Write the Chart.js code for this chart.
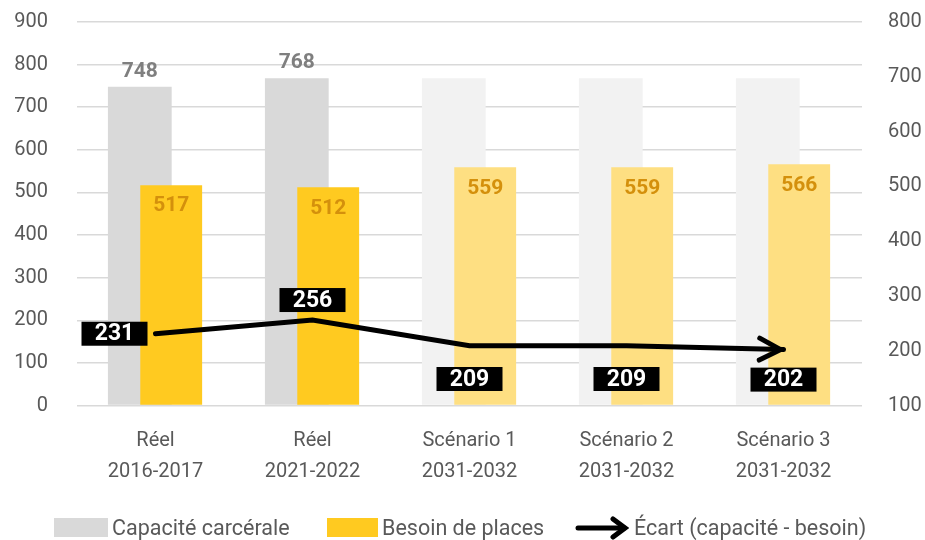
<!DOCTYPE html>
<html lang="fr">
<head>
<meta charset="utf-8">
<script src="https://cdn.jsdelivr.net/npm/chart.js@4/dist/chart.umd.min.js"></script>
<style>
  html, body { margin: 0; padding: 0; background: #fff; }
  #wrap { position: relative; width: 925px; height: 540px; }
  #legende { position: absolute; left: 0; top: 518px; width: 925px; height: 19px;
    font: 21.5px Roboto, sans-serif; color: #595959; white-space: nowrap; }
  .item { position: absolute; top: 0; height: 19px; display: flex; align-items: center; }
  .boite { display: inline-block; height: 19px; margin-right: 4px; }
</style>
</head>
<body>
<div id="wrap">
  <canvas id="grafico" width="925" height="540"></canvas>
  <div id="legende">
    <div class="item" style="left:54px"><span class="boite" style="background:#d9d9d9;width:54px"></span><span>Capacité carcérale</span></div>
    <div class="item" style="left:327px"><span class="boite" style="background:#ffca20;width:51px"></span><span>Besoin de places</span></div>
    <div class="item" style="left:575px">
      <svg width="54" height="24" viewBox="0 0 54 24" style="margin-right:5px">
        <path d="M3 12 H49" stroke="#000" stroke-width="5" stroke-linecap="round"/>
        <path d="M38 3 L50 12 L38 21" stroke="#000" stroke-width="5" fill="none" stroke-linecap="round"/>
      </svg>
      <span>Écart (capacité - besoin)</span>
    </div>
  </div>
</div>
<script>
const categories = [['Réel', '2016-2017'], ['Réel', '2021-2022'], ['Scénario 1', '2031-2032'], ['Scénario 2', '2031-2032'], ['Scénario 3', '2031-2032']];
const capacite = [748, 768, 768, 768, 768];
const besoin = [517, 512, 559, 559, 566];
const ecart = [231, 256, 209, 209, 202];
const ticksGauche = [0, 100, 200, 300, 400, 500, 600, 700, 800, 900];
const ticksDroite = [100, 200, 300, 400, 500, 600, 700, 800];
const nbReels = 2; // les deux premières colonnes sont des valeurs réelles

const police = 'Roboto, sans-serif';

// étiquettes des barres et de la ligne
const etiquettes = {
  id: 'etiquettes',
  afterDatasetsDraw(chart) {
    const ctx = chart.ctx;
    ctx.save();
    ctx.font = 'bold 21px ' + police;
    ctx.textAlign = 'center';
    ctx.textBaseline = 'middle';

    chart.getDatasetMeta(2).data.forEach((b, i) => {
      if (i >= nbReels) return;
      ctx.fillStyle = '#7f7f7f';
      ctx.fillText(capacite[i], b.x, b.y - 15);
    });

    chart.getDatasetMeta(1).data.forEach((b, i) => {
      ctx.fillStyle = '#d4900c';
      ctx.fillText(besoin[i], b.x, b.y + 21);
    });

    ctx.font = 'bold 23px ' + police;
    const pos = ['gauche', 'dessus', 'dessous', 'dessous', 'dessous'];
    chart.getDatasetMeta(0).data.forEach((p, i) => {
      let x = p.x, y = p.y;
      if (pos[i] === 'gauche') x -= 41;
      if (pos[i] === 'dessus') y -= 20;
      if (pos[i] === 'dessous') y = Math.max(y + 30, 379);
      ctx.fillStyle = '#000';
      ctx.fillRect(x - 33, y - 12, 66, 24);
      ctx.fillStyle = '#fff';
      ctx.fillText(ecart[i], x, y + 1);
    });
    ctx.restore();
  }
};

// pointe de flèche au bout de la ligne
const fleche = {
  id: 'fleche',
  afterDatasetsDraw(chart) {
    const pts = chart.getDatasetMeta(0).data;
    const a = pts[pts.length - 2], b = pts[pts.length - 1];
    const ang = Math.atan2(b.y - a.y, b.x - a.x);
    const ctx = chart.ctx;
    ctx.save();
    ctx.translate(b.x - 3, b.y);
    ctx.rotate(ang);
    ctx.strokeStyle = '#000';
    ctx.lineWidth = 5;
    ctx.lineCap = 'round';
    ctx.beginPath();
    ctx.moveTo(-21, -11);
    ctx.lineTo(0, 0);
    ctx.lineTo(-21, 11);
    ctx.stroke();
    ctx.restore();
  }
};

new Chart(grafico, {
  type: 'bar',
  data: {
    datasets: [
      {
        type: 'line',
        label: 'Écart (capacité - besoin)',
        data: ecart.map((v, i) => ({ x: i, y: v })),
        yAxisID: 'y2',
        borderColor: '#000',
        borderWidth: 5,
        borderCapStyle: 'round',
        pointRadius: 0,
        tension: 0,
        order: 0
      },
      {
        label: 'Besoin de places',
        data: besoin.map((v, i) => ({ x: i + 0.1, y: v })),
        yAxisID: 'y',
        backgroundColor: ['#ffca20', '#ffca20', '#fedf82', '#fedf82', '#fedf82'],
        barPercentage: 1.97,
        categoryPercentage: 1,
        grouped: false,
        order: 1
      },
      {
        label: 'Capacité carcérale',
        data: capacite.map((v, i) => ({ x: i - 0.1, y: v })),
        yAxisID: 'y',
        backgroundColor: ['#d9d9d9', '#d9d9d9', '#f2f2f2', '#f2f2f2', '#f2f2f2'],
        barPercentage: 2.03,
        categoryPercentage: 1,
        grouped: false,
        order: 2
      }
    ]
  },
  options: {
    responsive: false,
    animation: false,
    layout: { padding: { top: 22, left: 0, right: 0, bottom: 0 } },
    plugins: {
      legend: { display: false },
      tooltip: { enabled: false }
    },
    scales: {
      x: {
        type: 'linear',
        offset: false,
        min: -0.5,
        max: categories.length - 0.5,
        afterBuildTicks: s => { s.ticks = categories.map((c, i) => ({ value: i })); },
        afterFit: s => { s.height = 540 - 405.5; },
        grid: { display: false, drawTicks: false, offset: false },
        border: { display: false },
        ticks: {
          autoSkip: false,
          maxRotation: 0,
          padding: 20,
          color: '#595959',
          font: { family: police, size: 20, lineHeight: 1.55 },
          callback: v => categories[v]
        }
      },
      y: {
        position: 'left',
        min: 0,
        max: 900,
        afterBuildTicks: s => { s.ticks = ticksGauche.map(v => ({ value: v })); },
        afterFit: s => { s.width = 77; },
        grid: { color: '#d9d9d9', lineWidth: 1.5, drawTicks: true, tickLength: 29, tickColor: 'rgba(0,0,0,0)' },
        border: { display: false },
        ticks: {
          padding: 0,
          color: '#595959',
          font: { family: police, size: 20 }
        }
      },
      y2: {
        position: 'right',
        min: 100,
        max: 800,
        afterBuildTicks: s => { s.ticks = ticksDroite.map(v => ({ value: v })); },
        afterFit: s => { s.width = 925 - 862; },
        grid: { drawOnChartArea: false, drawTicks: true, tickLength: 26, tickColor: 'rgba(0,0,0,0)' },
        border: { display: false },
        ticks: {
          padding: 0,
          color: '#595959',
          font: { family: police, size: 20 }
        }
      }
    }
  },
  plugins: [etiquettes, fleche]
});
</script>
</body>
</html>
